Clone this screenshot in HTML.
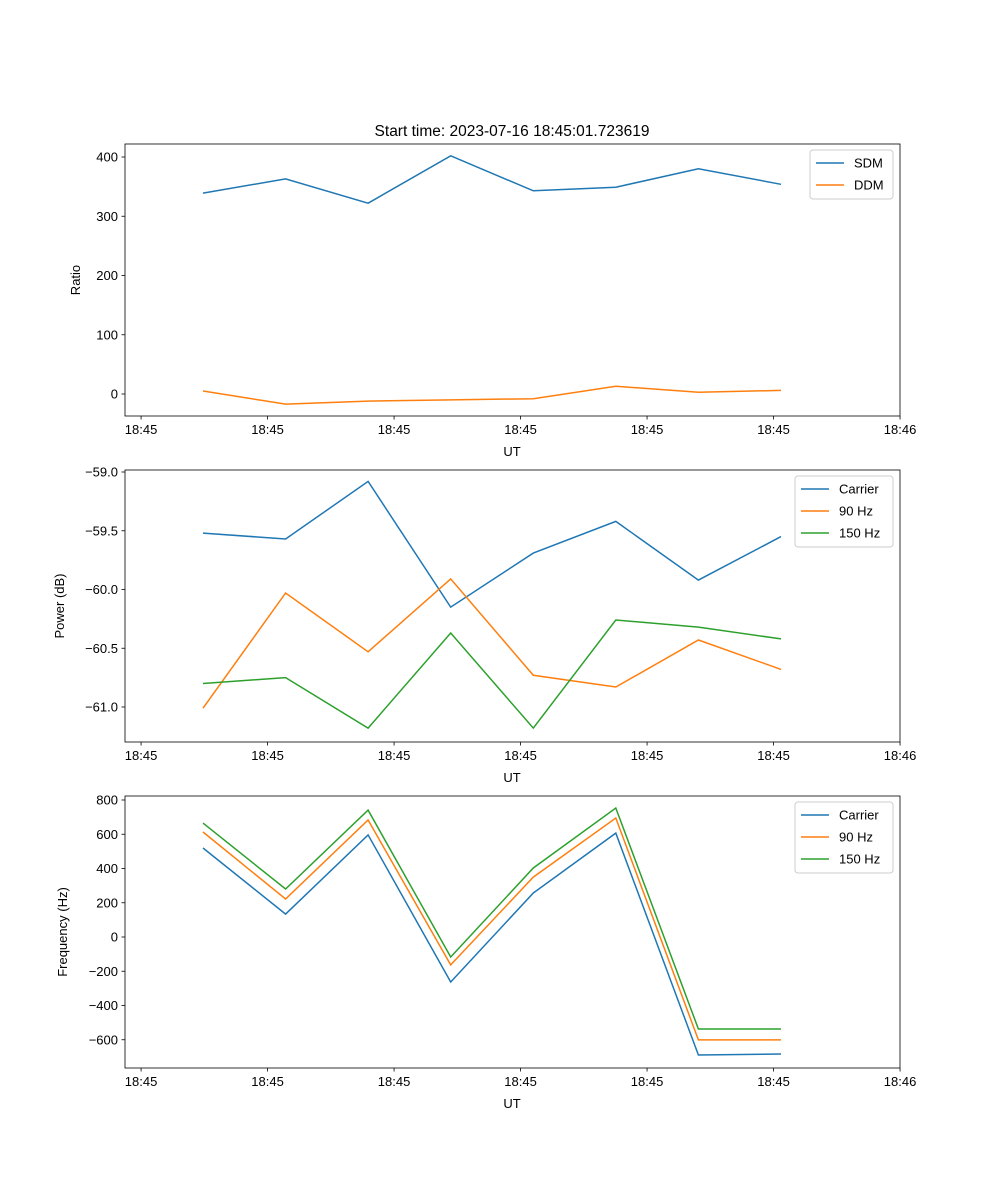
<!DOCTYPE html>
<html><head><meta charset="utf-8"><style>body{margin:0;background:#fff}svg{display:block}text{font-family:"Liberation Sans","DejaVu Sans",sans-serif;font-size:13px;fill:#000}</style></head>
<body>
<svg id="chart" width="1000" height="1200" xmlns="http://www.w3.org/2000/svg">
<text x="512" y="136" text-anchor="middle" style="font-size:15.5px">Start time: 2023-07-16 18:45:01.723619</text>
</svg>
<script>
const xTickLabels = ["18:45","18:45","18:45","18:45","18:45","18:45","18:46"];
const sdm = [339,363,322,402,343,349,380,354];
const ddm = [5,-17,-12,-10,-8,13,3,6];
const pCarrier = [-59.52,-59.57,-59.08,-60.15,-59.69,-59.42,-59.92,-59.55];
const p90 = [-61.01,-60.03,-60.53,-59.91,-60.73,-60.83,-60.43,-60.68];
const p150 = [-60.80,-60.75,-61.18,-60.37,-61.18,-60.26,-60.32,-60.42];
const fCarrier = [520,134,596,-263,257,607,-689,-683];
const f90 = [613,222,683,-163,350,695,-601,-601];
const f150 = [665,280,741,-117,403,753,-537,-537];
const ticks1 = [0,100,200,300,400];
const ticks2 = [-59.0,-59.5,-60.0,-60.5,-61.0];
const ticks3 = [-600,-400,-200,0,200,400,600,800];

const svg = document.getElementById('chart');
const NS = 'http://www.w3.org/2000/svg';
function mk(tag, attrs, parent){const e=document.createElementNS(NS,tag);for(const k in attrs)e.setAttribute(k,attrs[k]);(parent||svg).appendChild(e);return e;}
const L=125,R=900;
const xs = i => 203 + i*82.57;
const tickIdx = k => -0.75 + k*1.532;
const colors = ['#1f77b4','#ff7f0e','#2ca02c'];

function panel(name, top, bottom, yv0, yp0, yv1, yp1, yticks, fmt, ylabel, series, names, leg){
  const y = v => yp0 + (v - yv0)*(yp1-yp0)/(yv1-yv0);
  const g = mk('g',{});
  
  
  series.forEach((s,si)=>{
    const p = mk('polyline',{points:s.map((v,i)=>xs(i).toFixed(1)+','+y(v).toFixed(1)).join(' '),fill:'none',stroke:colors[si],'stroke-width':1.5},g);
    
    
  });
  mk('rect',{x:L,y:top,width:R-L,height:bottom-top,fill:'none',stroke:'#000','stroke-width':0.8},g);
  xTickLabels.forEach((t,k)=>{
    const x = xs(tickIdx(k));
    mk('line',{x1:x,x2:x,y1:bottom,y2:bottom+3.5,stroke:'#000','stroke-width':0.8},g);
    const tx = mk('text',{x:x,y:bottom+18,'text-anchor':'middle'},g);tx.textContent=t;
    
    
  });
  yticks.forEach(v=>{
    const yy=y(v);
    mk('line',{x1:L-3.5,x2:L,y1:yy,y2:yy,stroke:'#000','stroke-width':0.8},g);
    const tx = mk('text',{x:L-7,y:yy+4.5,'text-anchor':'end'},g);tx.textContent=fmt(v);
    
    
  });
  const xl = mk('text',{x:512,y:bottom+40,'text-anchor':'middle'},g);xl.textContent='UT';
  
  
  const yc=(top+bottom)/2;
  const yl = mk('text',{x:leg.yx,y:yc,'text-anchor':'middle',transform:'rotate(-90 '+leg.yx+' '+yc+')'},g);yl.textContent=ylabel;
  
  
  const lg = mk('g',{},g);
  
  
  mk('rect',{x:leg.x,y:top+6,width:893-leg.x,height:names.length*22+5,rx:3,fill:'#fff',stroke:'#ccc','stroke-width':1},lg);
  names.forEach((n,i)=>{
    const yy=top+6+13+i*22;
    mk('line',{x1:leg.x+6,x2:leg.x+34,y1:yy,y2:yy,stroke:colors[i],'stroke-width':1.5},lg);
    const t=mk('text',{x:leg.x+44,y:yy+4.5},lg);t.textContent=n;
    
    
  });
}
const minus = s => s.replace('-','\u2212');
panel('ratio',144,416,0,394,400,157,ticks1,v=>minus(String(v)),'Ratio',[sdm,ddm],['SDM','DDM'],{x:810,yx:80});
panel('power',470,742,-59,472,-61,707,ticks2,v=>minus(v.toFixed(1)),'Power (dB)',[pCarrier,p90,p150],['Carrier','90 Hz','150 Hz'],{x:795,yx:64});
panel('frequency',796,1068,0,937,800,800,ticks3,v=>minus(String(v)),'Frequency (Hz)',[fCarrier,f90,f150],['Carrier','90 Hz','150 Hz'],{x:795,yx:67});
</script>
</body></html>
